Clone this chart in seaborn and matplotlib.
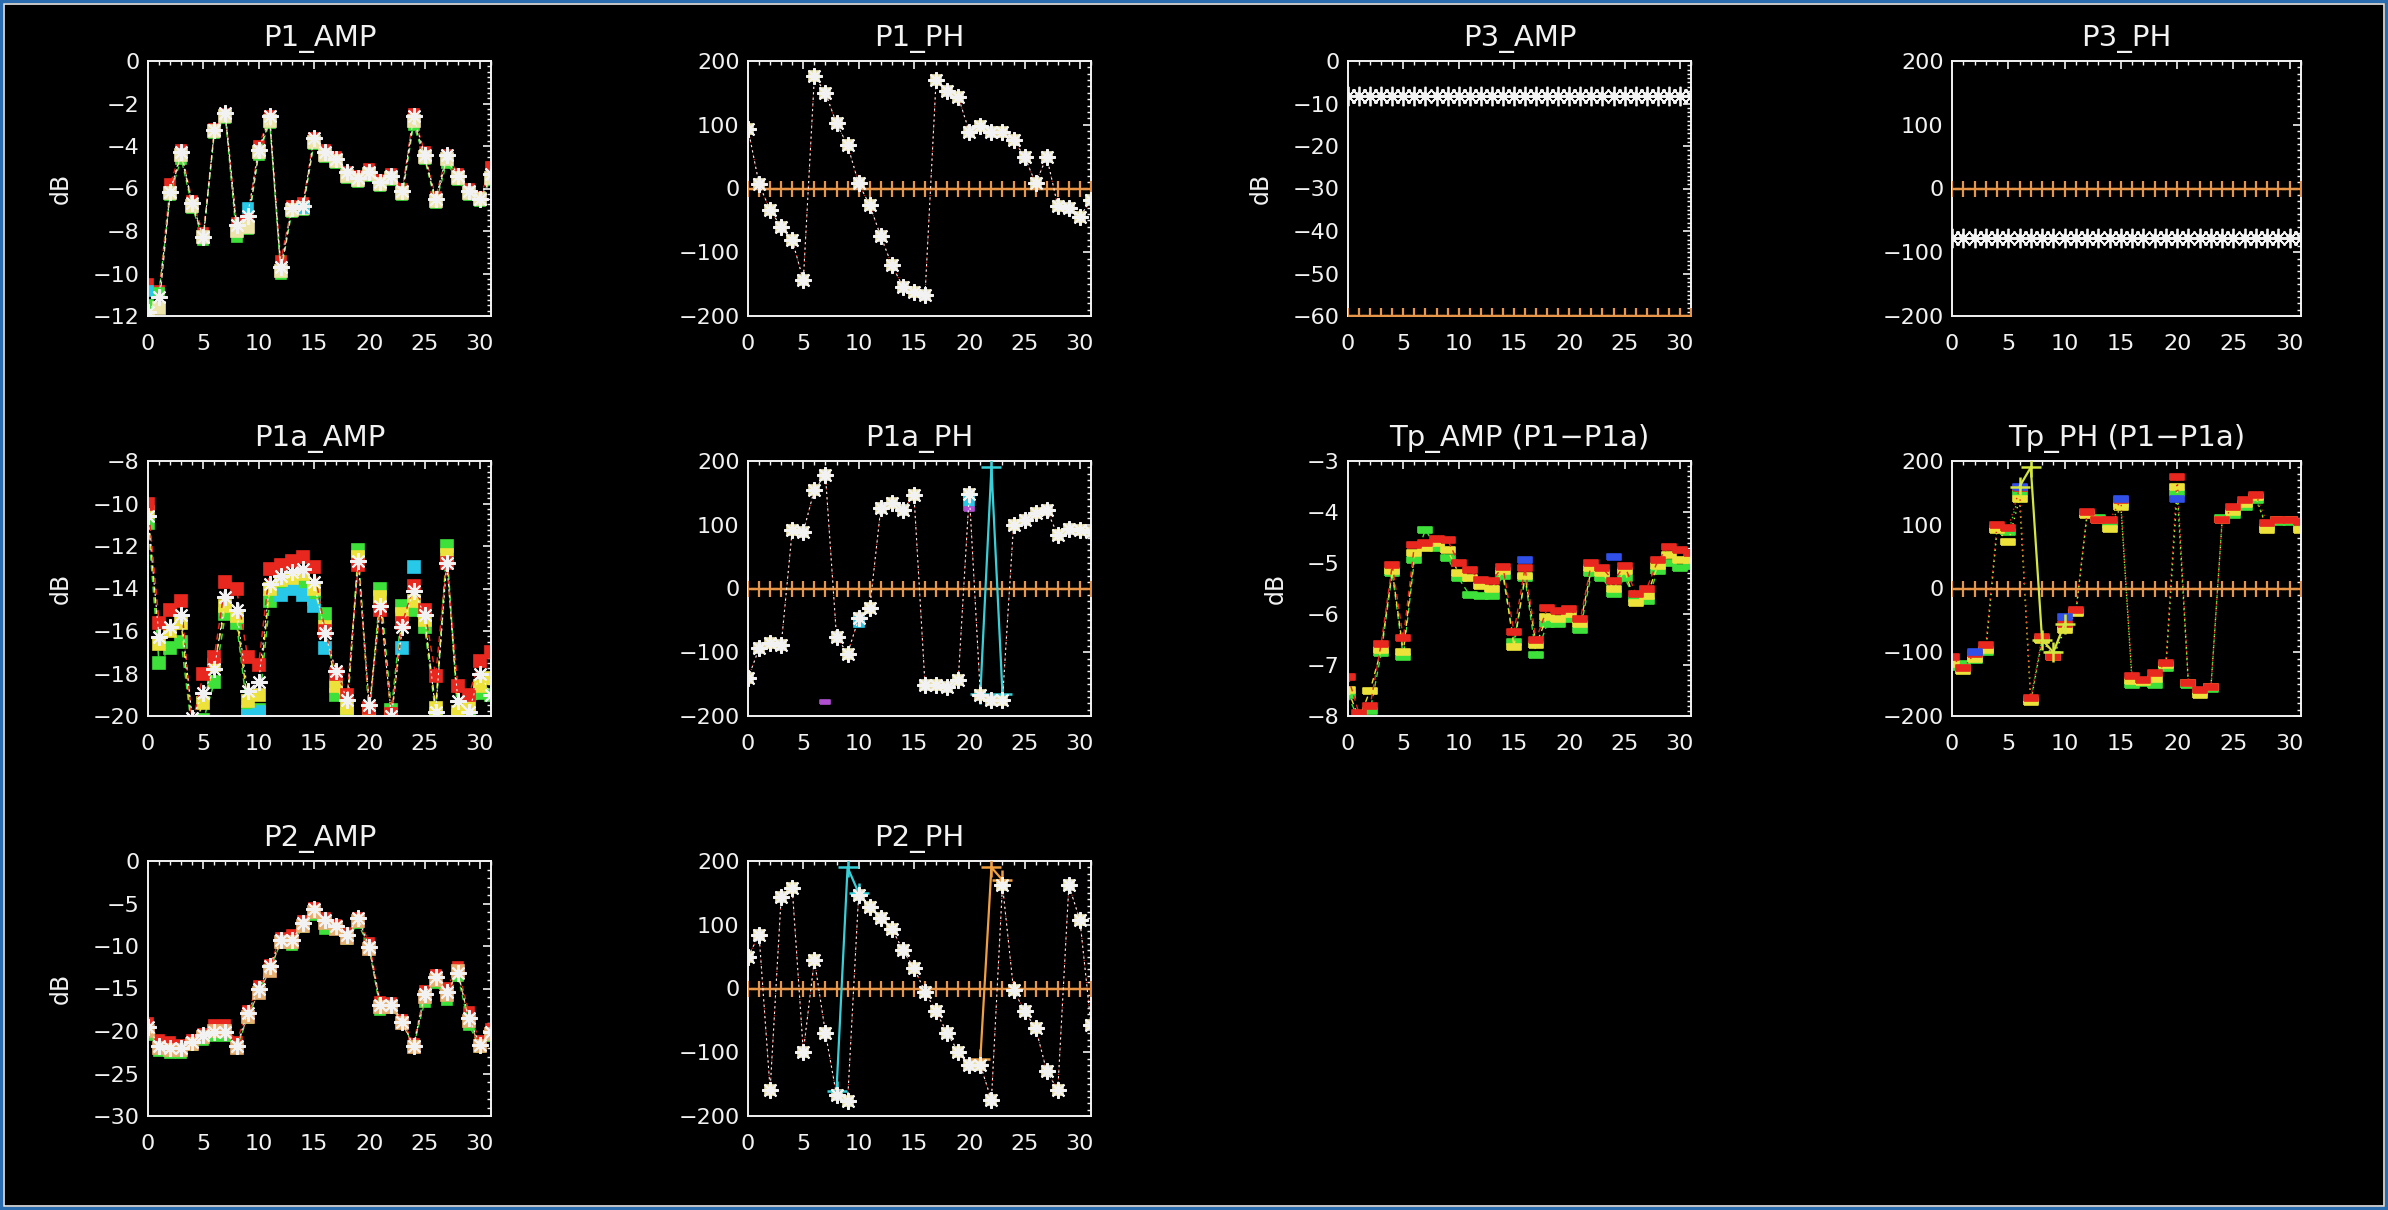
import matplotlib
matplotlib.use("Agg")
import matplotlib.pyplot as plt
from matplotlib.patches import Rectangle
from matplotlib.ticker import MultipleLocator, AutoMinorLocator
import seaborn as sns

# ---- data ----
x = list(range(32))

p1_amp_white = [-11.8, -11.1, -6.15, -4.27, -6.7, -8.27, -3.25, -2.46, -7.7, -7.3, -4.2, -2.6, -9.7, -6.9, -6.8, -3.6,
                -4.3, -4.6, -5.2, -5.5, -5.2, -5.7, -5.4, -6.1, -2.6, -4.4, -6.5, -4.4, -5.4, -6.1, -6.5, -5.3]
p1_amp_red = [-10.5, -10.8, -5.8, -4.2, -6.6, -8.1, -3.2, -2.5, -7.6, -7.5, -4.0, -2.6, -9.4, -6.8, -6.7, -3.6,
              -4.2, -4.5, -5.2, -5.4, -5.1, -5.6, -5.3, -6.0, -2.5, -4.3, -6.4, -4.4, -5.3, -6.0, -6.4, -5.0]
p1_amp_yellow = [-12.0, -11.6, -6.2, -4.4, -6.8, -8.3, -3.3, -2.6, -8.0, -7.8, -4.3, -2.8, -9.9, -7.0, -6.9, -3.8,
                 -4.4, -4.7, -5.4, -5.6, -5.3, -5.8, -5.5, -6.2, -2.8, -4.5, -6.6, -4.6, -5.5, -6.2, -6.5, -5.5]
p1_amp_green = [-11.5, -10.9, -6.3, -4.6, -6.9, -8.4, -3.4, -2.7, -8.3, -7.9, -4.4, -2.9, -10.0, -7.1, -7.0, -3.9,
                -4.5, -4.8, -5.5, -5.7, -5.4, -5.9, -5.6, -6.3, -3.0, -4.6, -6.7, -4.8, -5.6, -6.3, -6.6, -5.6]
p1_amp_cyan_x = [0, 9, 14]
p1_amp_cyan = [-10.8, -6.9, -6.9]

p1_ph_white = [94, 7, -34, -60, -81, -144, 176, 150, 102, 68, 8, -26, -75, -120, -154, -162,
               -167, 170, 153, 144, 89, 98, 89, 89, 76, 50, 8, 50, -28, -31, -44, -18]

p3_amp_white = [-8.2, -8.2, -8.2, -8.2, -8.2, -8.2, -8.2, -8.2, -8.2, -8.2, -8.2, -8.2, -8.2, -8.2, -8.2, -8.2,
                -8.2, -8.2, -8.2, -8.2, -8.2, -8.2, -8.2, -8.2, -8.2, -8.2, -8.2, -8.2, -8.2, -8.2, -8.2, -8.2]
p3_amp_floor = [-60, -60, -60, -60, -60, -60, -60, -60, -60, -60, -60, -60, -60, -60, -60, -60,
                -60, -60, -60, -60, -60, -60, -60, -60, -60, -60, -60, -60, -60, -60, -60, -60]
p3_ph_white = [-78, -78, -78, -78, -78, -78, -78, -78, -78, -78, -78, -78, -78, -78, -78, -78,
               -78, -78, -78, -78, -78, -78, -78, -78, -78, -78, -78, -78, -78, -78, -78, -78]
zero_ph = [0, 0, 0, 0, 0, 0, 0, 0, 0, 0, 0, 0, 0, 0, 0, 0,
           0, 0, 0, 0, 0, 0, 0, 0, 0, 0, 0, 0, 0, 0, 0, 0]

p1a_amp_white = [-10.6, -16.3, -15.8, -15.25, -20.1, -18.9, -17.8, -14.4, -15.0, -18.8, -18.4, -13.8, -13.4, -13.2,
                 -13.1, -13.7, -16.1, -17.9, -19.25, -12.7, -19.5, -14.8, -20.0, -15.8, -14.1, -15.25, -19.8, -12.8,
                 -19.3, -19.8, -18.0, -19.0]
p1a_amp_red = [-10.0, -15.6, -15.0, -14.6, -20.4, -18.0, -17.2, -13.7, -14.0, -17.2, -17.6, -13.1, -12.9, -12.7,
               -12.5, -13.0, -16.0, -18.0, -19.0, -12.9, -19.6, -15.0, -19.9, -15.6, -13.9, -15.0, -18.1, -12.8,
               -18.6, -19.0, -17.4, -17.0]
p1a_amp_yellow = [-10.4, -16.6, -16.0, -15.6, -20.6, -19.4, -17.6, -14.8, -15.3, -19.3, -19.0, -14.0, -13.6, -13.5,
                  -13.3, -14.0, -15.8, -18.6, -19.6, -12.5, -19.8, -14.4, -20.1, -15.2, -14.6, -15.5, -19.6, -12.4,
                  -19.8, -19.5, -18.6, -18.2]
p1a_amp_green = [-10.9, -17.5, -16.8, -16.5, -20.8, -20.2, -18.4, -15.2, -15.6, -19.8, -19.7, -14.6, -14.0, -13.9,
                 -13.9, -14.5, -15.2, -19.0, -19.9, -12.2, -20.1, -14.0, -19.7, -14.8, -15.0, -15.8, -19.9, -12.0,
                 -20.0, -20.0, -18.9, -19.0]
p1a_amp_cyan_x = [9, 10, 12, 13, 14, 15, 16, 23, 24]
p1a_amp_cyan = [-20.0, -19.8, -14.3, -14.0, -14.3, -14.8, -16.8, -16.8, -13.0]

p1a_ph_white = [-141, -94, -86, -89, 92, 89, 155, 178, -76, -102, -47, -31, 126, 134, 123, 147,
                -151, -151, -154, -144, 149, -167, -175, -175, 100, 107, 118, 123, 84, 94, 92, 89]
p1a_ph_cyan_x = [10, 20]
p1a_ph_cyan = [-52, 138]
p1a_ph_purple_x = [7, 20]
p1a_ph_purple = [-178, 125]
p1a_ph_spike_x = [21, 22, 23]
p1a_ph_spike = [-165, 190, -165]

tp_amp_red = [-7.23, -7.95, -7.8, -6.58, -5.04, -6.48, -4.65, -4.6, -4.52, -4.55, -5.0, -5.14, -5.33, -5.35, -5.07,
              -6.35, -5.1, -6.5, -5.89, -5.95, -5.9, -6.1, -5.0, -5.1, -5.35, -5.05, -5.6, -5.5, -4.95, -4.68,
              -4.75, -4.8]
tp_amp_yellow = [-7.49, -8.05, -7.5, -6.7, -5.15, -6.75, -4.8, -4.7, -4.6, -4.75, -5.2, -5.3, -5.45, -5.5, -5.15,
                 -6.64, -5.25, -6.6, -6.05, -6.1, -6.0, -6.2, -5.1, -5.2, -5.5, -5.15, -5.79, -5.65, -5.05, -4.85,
                 -4.95, -4.95]
tp_amp_green = [-7.59, -8.1, -7.9, -6.77, -5.2, -6.84, -4.94, -4.35, -4.7, -4.9, -5.3, -5.63, -5.65, -5.65, -5.25,
                -6.55, -5.3, -6.8, -6.2, -6.2, -6.1, -6.31, -5.2, -5.3, -5.6, -5.3, -5.7, -5.75, -5.15, -5.0,
                -5.1, -5.05]
tp_amp_blue_x = [16, 24]
tp_amp_blue = [-4.95, -4.88]

tp_ph_red = [-107, -125, -102, -89, 100, 95, 157, -172, -76, -107, -55, -34, 120, 107, 107, 139,
             -138, -143, -133, -117, 175, -149, -159, -154, 107, 128, 139, 147, 102, 107, 107, 105]
tp_ph_yellow = [-118, -130, -110, -96, 92, 73, 141, -178, -81, -107, -65, -39, 115, 107, 94, 128,
                -145, -147, -142, -120, 160, -149, -167, -154, 107, 120, 133, 143, 92, 107, 107, 92]
tp_ph_green = [-123, -118, -112, -100, 95, 88, 150, -175, -79, -104, -60, -37, 118, 110, 100, 132,
               -151, -149, -151, -125, 150, -152, -163, -158, 110, 115, 128, 139, 97, 104, 104, 95]
tp_ph_blue_x = [2, 10, 20, 6, 15]
tp_ph_blue = [-99, -44, 140, 160, 141]
tp_ph_spike_x = [6, 7, 8, 9, 10]
tp_ph_spike = [160, 190, -80, -100, -55]

p2_amp_white = [-19.5, -21.8, -22.0, -22.0, -21.3, -20.5, -20.1, -20.1, -21.8, -17.9, -15.0, -12.4, -9.3, -9.3,
                -7.3, -5.6, -6.9, -7.7, -8.7, -6.7, -10.1, -16.9, -16.9, -18.9, -21.8, -15.6, -13.6, -15.4, -13.2,
                -18.5, -21.6, -20.1]
p2_amp_orange = [-20.0, -22.0, -22.2, -22.2, -21.5, -20.7, -20.0, -20.0, -22.0, -18.3, -15.5, -12.9, -9.5, -9.5,
                 -7.6, -6.0, -7.3, -8.0, -9.0, -7.0, -10.3, -17.2, -17.2, -19.1, -21.9, -16.0, -14.0, -15.8, -12.9,
                 -18.8, -21.8, -20.4]
p2_amp_green = [-20.5, -22.3, -22.6, -22.6, -21.6, -21.0, -20.6, -20.6, -22.0, -18.5, -15.3, -12.8, -9.6, -9.9,
                -7.8, -6.3, -8.0, -8.0, -9.2, -7.3, -10.4, -17.5, -17.3, -19.0, -21.8, -16.6, -14.4, -16.3, -13.5,
                -19.3, -21.9, -20.6]
p2_amp_red = [-19.0, -21.0, -21.3, -21.7, -21.0, -20.3, -19.3, -19.3, -21.3, -17.6, -14.7, -12.2, -9.0, -8.7,
              -7.0, -5.5, -6.7, -7.5, -8.5, -6.7, -9.6, -16.6, -16.7, -18.7, -21.5, -15.3, -13.4, -14.9, -12.5,
              -17.8, -21.2, -19.8]

p2_ph_white = [50, 84, -159, 144, 157, -99, 45, -70, -167, -177, 147, 128, 110, 94, 60, 32,
               -5, -36, -70, -99, -120, -120, -175, 162, -2, -36, -62, -130, -159, 162, 107, -57]
p2_ph_cyan_x = [8, 9, 10]
p2_ph_cyan = [-160, 190, 150]
p2_ph_orange_x = [21, 22, 23]
p2_ph_orange = [-110, 190, 170]

# ---- styling ----
W, H = 2388, 1210
WHITE = '#f2f2f2'
RED = '#e8281e'
ORANGE = '#f08a2a'
YELLOW = '#ece23a'
PALE = '#ece4a8'
GREEN = '#3ee03a'
CYAN = '#28c8e8'
BLUE = '#3050e8'
ZERO_C = '#e8964a'
STAR = (8, 2, 0)
BAR = [(-1, -0.45), (1, -0.45), (1, 0.45), (-1, 0.45), (-1, -0.45)]

sns.set_theme(style='dark')
plt.rcParams['font.family'] = ['DejaVu Sans']
plt.rcParams['axes.unicode_minus'] = True

fig = plt.figure(figsize=(W / 100, H / 100), dpi=100, facecolor='black')

cols = [(148, 491), (748, 1091), (1348, 1691), (1952, 2301)]
rows = [(61, 316), (461, 716), (861, 1116)]


def make_ax(r, c):
    (x0, x1), (y0, y1) = cols[c], rows[r]
    return fig.add_axes([x0 / W, 1 - y1 / H, (x1 - x0) / W, (y1 - y0) / H])


def style(ax, title, ylim, ystep, nminor, ylabel=True):
    ax.set_facecolor('black')
    ax.grid(False)
    ax.set_xlim(0, 31)
    ax.set_ylim(*ylim)
    ax.xaxis.set_major_locator(MultipleLocator(5))
    ax.xaxis.set_minor_locator(MultipleLocator(1))
    ax.yaxis.set_major_locator(MultipleLocator(ystep))
    ax.yaxis.set_minor_locator(AutoMinorLocator(nminor))
    for s in ax.spines.values():
        s.set_color(WHITE)
        s.set_linewidth(1.4)
        s.set_visible(True)
    ax.tick_params(which='both', direction='in', top=True, right=True, color=WHITE,
                   labelcolor=WHITE, labelsize=16)
    ax.tick_params(which='major', length=6, width=1.2)
    ax.tick_params(which='minor', length=3, width=1.0)
    ax.tick_params(axis='x', pad=13)
    ax.tick_params(axis='y', pad=6)
    ax.set_title(title, color=WHITE, fontsize=21, pad=11)
    ax.set_xlabel('')
    if ylabel:
        ax.set_ylabel('dB', color=WHITE, fontsize=17, labelpad=14)
    else:
        ax.set_ylabel('')
    ticks = ax.yaxis.get_major_ticks()
    ticks[0].label1.set_va('bottom')
    ticks[-1].label1.set_va('top')


def trace(ax, xs, ys, color, marker='', ms=7, ls=(0, (4, 3)), lw=0.9, mew=1.2, filled=True, z=2):
    sns.lineplot(x=xs, y=ys, ax=ax, color=color, marker=marker, markersize=ms,
                 markerfacecolor=color if filled else 'none', markeredgecolor=color,
                 markeredgewidth=mew, linestyle=ls, linewidth=lw, sort=False,
                 estimator=None, legend=False, zorder=z)


def zero_line(ax, ys):
    trace(ax, x, ys, ZERO_C, marker='+', ms=11, ls='-', lw=1.6, mew=1.6, z=3)


def stars(ax, ys, ms=12):
    trace(ax, x, ys, WHITE, marker=STAR, ms=ms, ls=(0, (2, 3)), lw=0.8, mew=1.5, z=5)


# P1_AMP
ax = make_ax(0, 0)
trace(ax, x, p1_amp_red, RED, marker='s', ms=7)
trace(ax, x, p1_amp_green, GREEN, marker='s', ms=7)
trace(ax, x, p1_amp_yellow, PALE, marker='s', ms=8)
trace(ax, p1_amp_cyan_x, p1_amp_cyan, CYAN, marker='s', ms=7, ls='none')
stars(ax, p1_amp_white)
style(ax, 'P1_AMP', (-12, 0), 2, 8)

# P1_PH
ax = make_ax(0, 1)
trace(ax, x, p1_ph_white, RED, ls=(0, (1, 3)), lw=0.8)
trace(ax, x, p1_ph_white, PALE, marker='s', ms=7, ls='none')
zero_line(ax, zero_ph)
stars(ax, p1_ph_white)
style(ax, 'P1_PH', (-200, 200), 100, 10, ylabel=False)

# P3_AMP
ax = make_ax(0, 2)
zero_line(ax, p3_amp_floor)
trace(ax, x, p3_amp_white, WHITE, marker=STAR, ms=14, ls='-', lw=1.0, mew=1.3, z=5)
trace(ax, x, p3_amp_white, WHITE, marker='D', ms=4, ls='none', z=6)
style(ax, 'P3_AMP', (-60, 0), 10, 10)

# P3_PH
ax = make_ax(0, 3)
zero_line(ax, zero_ph)
trace(ax, x, p3_ph_white, WHITE, marker=STAR, ms=14, ls='-', lw=1.0, mew=1.3, z=5)
trace(ax, x, p3_ph_white, WHITE, marker='D', ms=4, ls='none', z=6)
style(ax, 'P3_PH', (-200, 200), 100, 10, ylabel=False)

# P1a_AMP
ax = make_ax(1, 0)
trace(ax, x, p1a_amp_green, GREEN, marker='s', ms=9, lw=1.1)
trace(ax, p1a_amp_cyan_x, p1a_amp_cyan, CYAN, marker='s', ms=9, ls='none')
trace(ax, x, p1a_amp_yellow, YELLOW, marker='s', ms=9, lw=1.1)
trace(ax, x, p1a_amp_red, RED, marker='s', ms=9, lw=1.1)
stars(ax, p1a_amp_white)
style(ax, 'P1a_AMP', (-20, -8), 2, 8)

# P1a_PH
ax = make_ax(1, 1)
trace(ax, x, p1a_ph_white, RED, ls=(0, (1, 3)), lw=0.8)
trace(ax, x, p1a_ph_white, PALE, marker='s', ms=7, ls='none')
trace(ax, p1a_ph_cyan_x, p1a_ph_cyan, CYAN, marker='s', ms=7, ls='none')
trace(ax, p1a_ph_purple_x, p1a_ph_purple, '#b050d0', marker=BAR, ms=7, ls='none')
zero_line(ax, zero_ph)
trace(ax, p1a_ph_spike_x, p1a_ph_spike, '#38d0d8', marker='+', ms=14, ls='-', lw=1.6, mew=1.8, z=4)
stars(ax, p1a_ph_white)
style(ax, 'P1a_PH', (-200, 200), 100, 10, ylabel=False)

# Tp_AMP (P1-P1a)
ax = make_ax(1, 2)
trace(ax, x, tp_amp_green, GREEN, marker=BAR, ms=10, lw=1.0)
trace(ax, x, tp_amp_yellow, YELLOW, marker=BAR, ms=10, lw=1.0)
trace(ax, x, tp_amp_red, RED, marker=BAR, ms=10, lw=1.0)
trace(ax, tp_amp_blue_x, tp_amp_blue, BLUE, marker=BAR, ms=10, ls='none')
style(ax, 'Tp_AMP (P1\u2212P1a)', (-8, -3), 1, 10)

# Tp_PH (P1-P1a)
ax = make_ax(1, 3)
trace(ax, x, tp_ph_green, GREEN, marker=BAR, ms=10, ls=(0, (1, 3)), lw=1.0)
trace(ax, x, tp_ph_yellow, YELLOW, marker=BAR, ms=10, ls=(0, (1, 3)), lw=1.0)
trace(ax, x, tp_ph_red, RED, marker=BAR, ms=10, ls=(0, (1, 3)), lw=1.0)
trace(ax, tp_ph_blue_x, tp_ph_blue, BLUE, marker=BAR, ms=10, ls='none')
zero_line(ax, zero_ph)
trace(ax, tp_ph_spike_x, tp_ph_spike, '#d4e640', marker='+', ms=14, ls='-', lw=1.6, mew=1.8, z=4)
style(ax, 'Tp_PH (P1\u2212P1a)', (-200, 200), 100, 10, ylabel=False)

# P2_AMP
ax = make_ax(2, 0)
trace(ax, x, p2_amp_red, RED, marker='s', ms=7)
trace(ax, x, p2_amp_green, GREEN, marker='s', ms=7)
trace(ax, x, p2_amp_orange, '#e8b070', marker='s', ms=8)
stars(ax, p2_amp_white)
style(ax, 'P2_AMP', (-30, 0), 5, 5)

# P2_PH
ax = make_ax(2, 1)
trace(ax, x, p2_ph_white, RED, ls=(0, (1, 3)), lw=0.8)
trace(ax, x, p2_ph_white, PALE, marker='s', ms=7, ls='none')
zero_line(ax, zero_ph)
trace(ax, p2_ph_cyan_x, p2_ph_cyan, '#38d0d8', marker='+', ms=14, ls='-', lw=1.6, mew=1.8, z=4)
trace(ax, p2_ph_orange_x, p2_ph_orange, '#f0a040', marker='+', ms=14, ls='-', lw=1.6, mew=1.8, z=4)
stars(ax, p2_ph_white)
style(ax, 'P2_PH', (-200, 200), 100, 10, ylabel=False)

# window frame
fig.patches.append(Rectangle((0, 0), 1, 1, transform=fig.transFigure, fill=False,
                             edgecolor='#2a6cae', linewidth=4.5, zorder=10))
fig.patches.append(Rectangle((4 / W, 4 / H), 1 - 8 / W, 1 - 8 / H, transform=fig.transFigure,
                             fill=False, edgecolor='#e8e8e8', linewidth=1.2, zorder=10))

fig.savefig('out.png', dpi=100, facecolor='black')
